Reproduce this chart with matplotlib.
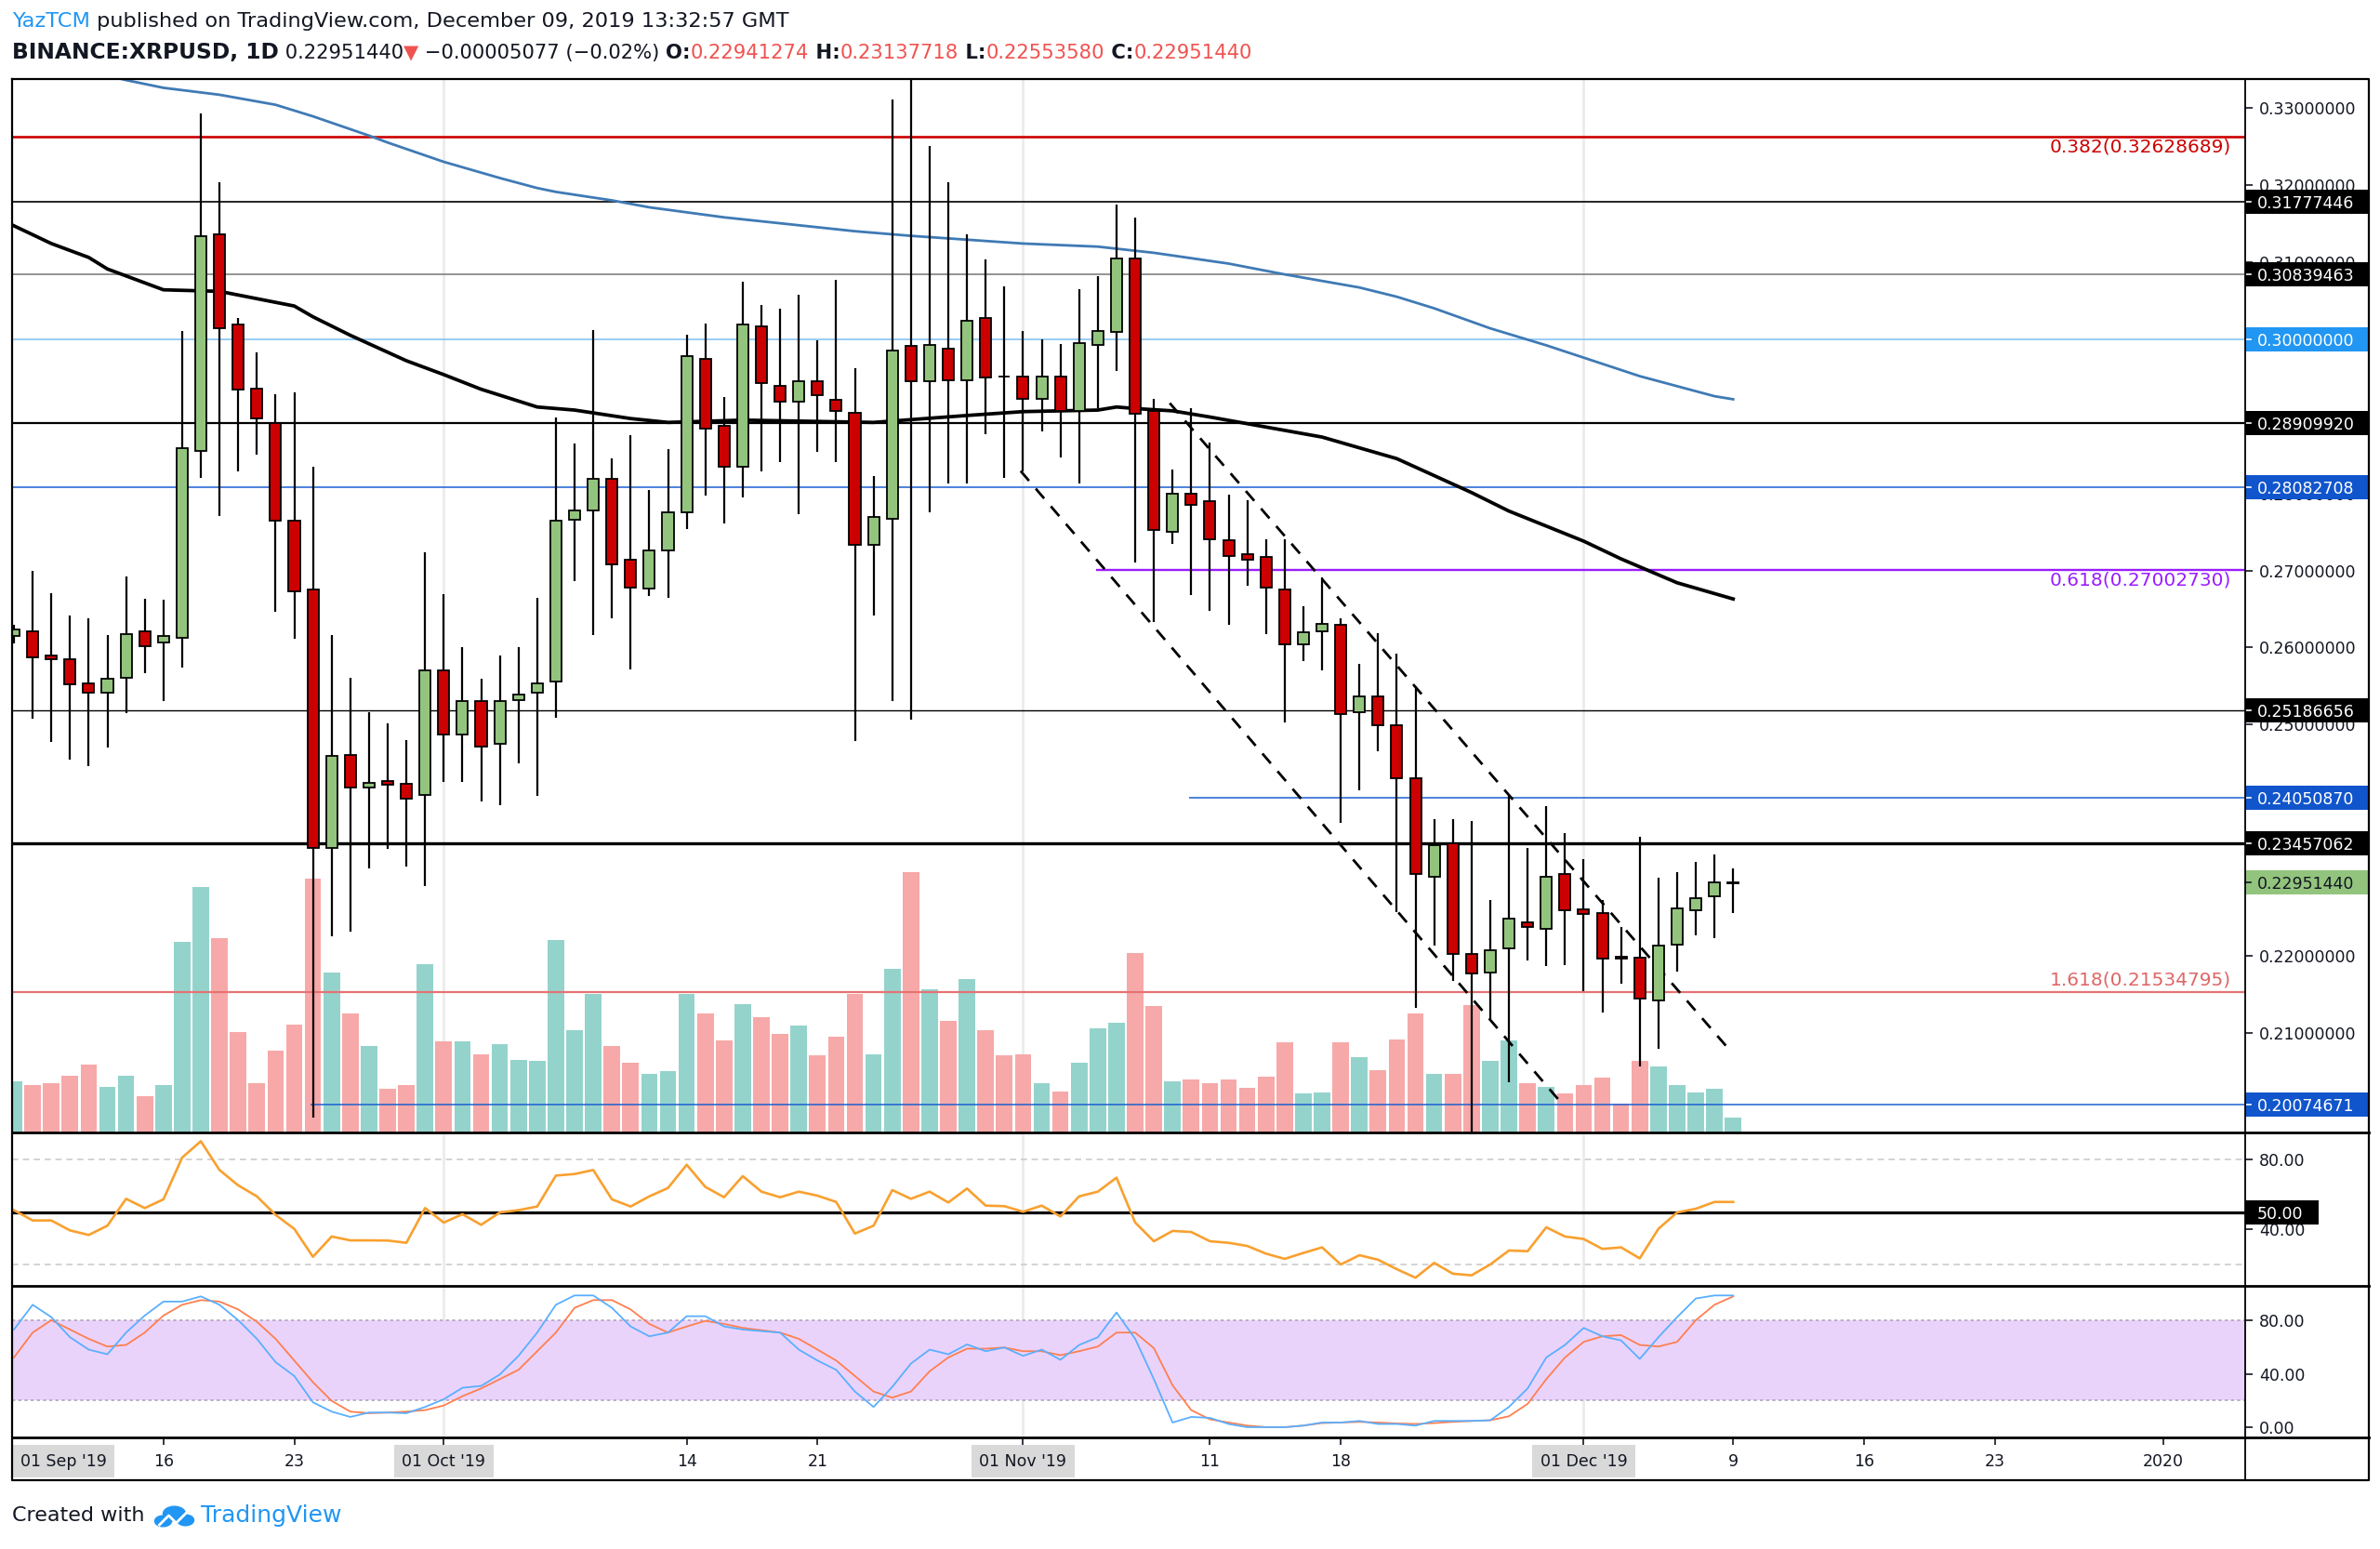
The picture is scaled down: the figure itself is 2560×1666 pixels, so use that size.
import matplotlib
matplotlib.use("Agg")
import matplotlib.pyplot as plt
import matplotlib.transforms as mtransforms
from matplotlib.patches import Rectangle, Circle
from matplotlib.lines import Line2D
import numpy as np
import pandas as pd

plt.rcParams['font.family'] = ['DejaVu Sans']

# ---------------- data ----------------
start_date = "2019-09-08"

opens = [.2615, .2621, .2590, .2585, .2554, .2541, .2561, .2621, .2607, .2613,
         .2855, .3136, .3019, .2936, .2891, .2764, .2675, .2340, .2461, .2419,
         .2427, .2423, .2409, .2570, .2487, .2530, .2475, .2532, .2541, .2556,
         .2766, .2778, .2819, .2714, .2676, .2726, .2776, .2974, .2888, .2835,
         .3016, .2940, .2919, .2945, .2921, .2904, .2733, .2767, .2991, .2945,
         .2988, .2947, .3027, .2952, .2952, .2923, .2952, .2907, .2993, .3009,
         .3105, .2907, .2750, .2799, .2790, .2739, .2721, .2718, .2675, .2604,
         .2621, .2630, .2516, .2537, .2499, .2430, .2303, .2346, .2202, .2179,
         .2210, .2243, .2235, .2306, .2260, .2256, .2199, .2198, .2142, .2215,
         .2259, .2277, .22941274]
highs = [.2629, .2700, .2671, .2642, .2638, .2616, .2692, .2663, .2662, .3010,
         .3293, .3204, .3027, .2983, .2929, .2931, .2835, .2616, .2561, .2516,
         .2502, .2480, .2723, .2669, .2600, .2559, .2590, .2600, .2664, .2899,
         .2865, .3012, .2845, .2875, .2804, .2858, .3006, .3020, .2925, .3075,
         .3044, .3039, .3058, .2998, .3077, .2962, .2822, .3311, .3450, .3251,
         .3204, .3136, .3104, .3069, .3010, .3000, .2994, .3065, .3082, .3175,
         .3158, .2923, .2831, .2910, .2866, .2798, .2791, .2740, .2740, .2654,
         .2691, .2638, .2579, .2619, .2592, .2550, .2378, .2378, .2375, .2273,
         .2408, .2340, .2394, .2359, .2326, .2273, .2238, .2355, .2302, .2309,
         .2322, .2331, .23137718]
lows = [.2605, .2508, .2478, .2455, .2446, .2470, .2515, .2567, .2531, .2574,
        .2820, .2770, .2828, .2850, .2646, .2611, .1990, .2225, .2232, .2313,
        .2339, .2316, .2291, .2426, .2426, .2400, .2395, .2450, .2408, .2509,
        .2686, .2616, .2638, .2571, .2667, .2664, .2754, .2797, .2761, .2795,
        .2828, .2840, .2773, .2854, .2840, .2479, .2642, .2530, .2506, .2776,
        .2813, .2813, .2877, .2820, .2829, .2880, .2846, .2813, .2911, .2959,
        .2710, .2633, .2734, .2668, .2648, .2630, .2680, .2617, .2503, .2583,
        .2570, .2372, .2415, .2465, .2257, .2133, .2214, .2167, .1900, .2118,
        .2036, .2194, .2187, .2188, .2154, .2127, .2164, .2057, .2079, .2180,
        .2227, .2223, .22553580]
closes = [.2623, .2587, .2585, .2552, .2541, .2559, .2618, .2602, .2615, .2859,
          .3133, .3014, .2935, .2897, .2764, .2673, .2340, .2459, .2419, .2425,
          .2422, .2404, .2570, .2487, .2530, .2472, .2530, .2539, .2554, .2764,
          .2778, .2819, .2708, .2678, .2726, .2776, .2978, .2884, .2835, .3019,
          .2943, .2919, .2945, .2927, .2907, .2733, .2769, .2985, .2945, .2993,
          .2947, .3024, .2950, .2951, .2923, .2952, .2907, .2995, .3010, .3105,
          .2903, .2753, .2799, .2785, .2740, .2719, .2714, .2678, .2604, .2620,
          .2631, .2514, .2537, .2499, .2430, .2306, .2344, .2202, .2177, .2207,
          .2248, .2237, .2303, .2259, .2254, .2196, .2197, .2145, .2213, .2262,
          .2275, .2296, .22951440]
volumes = [75, 70, 72, 83, 100, 67, 83, 53, 70, 280,
           360, 285, 147, 72, 120, 158, 372, 234, 175, 127,
           64, 70, 247, 134, 134, 115, 129, 107, 105, 282,
           150, 203, 127, 102, 86, 90, 203, 175, 135, 188,
           169, 145, 157, 113, 140, 203, 115, 240, 382, 210,
           164, 225, 150, 113, 115, 72, 60, 102, 153, 161,
           263, 186, 75, 78, 72, 78, 65, 82, 132, 57,
           59, 132, 110, 92, 137, 175, 86, 86, 187, 105,
           135, 72, 67, 57, 70, 81, 42, 105, 97, 70,
           59, 64, 22]

ma_black_days = [0, 2, 4, 5, 8, 11, 15, 16, 18, 21, 23, 25, 28, 30, 33, 35, 39, 46,
                 51, 54, 58, 59, 60, 62, 64, 70, 74, 76, 78, 80, 84, 86, 89, 92]
ma_black = [.3147, .3124, .3106, .3091, .3064, .3062, .3043, .3029, .3005, .2972,
            .2954, .2935, .2912, .2908, .2897, .2892, .2895, .2892, .2901, .2906,
            .2908, .2912, .2910, .2907, .2899, .2873, .2845, .2823, .2801, .2777,
            .2738, .2715, .2684, .2663]
ma_blue_days = [0, 6, 8, 11, 14, 16, 19, 20, 23, 26, 28, 29, 32, 34, 38, 45, 48, 54,
                58, 61, 65, 68, 72, 74, 76, 79, 82, 85, 87, 91, 92]
ma_blue = [.3372, .3336, .3326, .3317, .3304, .3289, .3264, .3255, .3230, .3209,
           .3196, .3191, .3180, .3171, .3158, .3140, .3134, .3124, .3120, .3112,
           .3098, .3084, .3067, .3055, .3040, .3014, .2992, .2968, .2952, .2926,
           .2922]

upper_channel_days = [61.85, 91.95]
upper_channel = [.2917, .2074]
lower_channel_days = [53.87, 82.85]
lower_channel = [.2829, .2008]

level_prices = [0.32628689, 0.31777446, 0.30839463, 0.30000000, 0.28909920,
                0.28082708, 0.27002730, 0.25186656, 0.24050870, 0.23457062,
                0.21534795, 0.20074671]
level_from_day = [None, None, None, None, None, None, 57.9, None, 62.9, None, None, 15.85]

fib_labels = ["0.382(0.32628689)", "0.618(0.27002730)", "1.618(0.21534795)"]
fib_prices = [0.32628689, 0.27002730, 0.21534795]

rsi = [51.1, 45.2, 45.2, 39.5, 36.9, 42.2, 57.6, 52.3, 57.3, 81.2,
       90.6, 74.1, 65.3, 59.0, 48.4, 40.4, 24.4, 36.0, 33.8, 33.8,
       33.7, 32.4, 52.3, 44.0, 48.8, 42.7, 49.8, 51.1, 53.2, 70.9,
       71.8, 74.1, 57.3, 53.2, 59.0, 63.8, 77.1, 64.4, 58.5, 70.6,
       61.7, 58.5, 61.7, 59.4, 55.8, 37.7, 42.2, 62.6, 57.6, 61.7,
       55.5, 63.5, 53.7, 53.4, 50.2, 53.7, 47.5, 59.0, 61.7, 69.7,
       44.0, 33.3, 39.2, 38.6, 33.3, 32.4, 30.6, 26.2, 23.2, 26.6,
       29.8, 20.0, 25.3, 22.7, 17.3, 12.4, 20.9, 14.7, 13.8, 20.0,
       28.0, 27.6, 41.3, 36.0, 34.6, 28.9, 29.8, 23.5, 40.4, 49.8,
       51.9, 55.8, 55.8]
stoch_k = [73.4, 92.0, 82.7, 67.6, 58.3, 54.8, 71.1, 83.9, 94.4, 94.4,
           98.3, 92.0, 80.4, 66.4, 48.9, 38.5, 18.7, 11.7, 7.7, 11.0,
           11.0, 10.5, 15.2, 21.0, 29.6, 31.0, 39.6, 53.6, 71.1, 92.0,
           99.0, 99.0, 89.7, 75.7, 68.3, 71.1, 83.4, 83.4, 75.7, 73.4,
           72.2, 71.1, 58.3, 50.1, 43.1, 26.8, 15.2, 30.3, 47.8, 58.3,
           54.8, 62.2, 57.1, 59.9, 53.6, 58.3, 50.6, 61.8, 67.6, 86.2,
           66.4, 36.1, 3.5, 7.7, 7.0, 2.4, 0.0, 0.0, 0.0, 1.2,
           3.5, 3.5, 4.7, 2.4, 2.4, 1.2, 4.7, 4.7, 4.7, 5.2,
           15.2, 29.1, 52.4, 61.8, 74.6, 68.3, 65.2, 51.3, 67.6, 82.7,
           96.7, 99.0, 99.0]
stoch_d = [52.4, 71.1, 80.4, 73.4, 66.4, 60.6, 61.8, 71.1, 83.9, 92.0,
           95.5, 94.4, 88.5, 79.2, 66.4, 50.1, 33.8, 19.8, 11.7, 10.5,
           11.0, 11.7, 12.8, 16.3, 23.3, 29.1, 36.1, 43.1, 57.1, 71.1,
           89.7, 95.5, 95.5, 88.5, 77.6, 71.1, 75.7, 79.9, 77.6, 74.6,
           72.9, 71.1, 66.4, 58.3, 50.1, 38.5, 26.8, 22.2, 26.8, 42.0,
           52.4, 59.0, 59.0, 59.9, 57.1, 57.1, 54.1, 57.1, 60.6, 71.1,
           71.1, 59.4, 31.5, 12.8, 5.9, 3.5, 1.2, 0.0, 0.0, 1.2,
           3.1, 3.5, 4.0, 3.5, 2.8, 2.4, 3.1, 4.0, 4.7, 5.2,
           8.2, 17.5, 36.1, 52.4, 64.1, 68.3, 69.2, 61.8, 60.6, 64.1,
           80.4, 92.0, 98.3]

price_ticks = [0.21, 0.22, 0.23, 0.24, 0.25, 0.26, 0.27, 0.28, 0.30, 0.31, 0.32, 0.33]

tick_dates = ["2019-09-16", "2019-09-23", "2019-10-01", "2019-10-14", "2019-10-21",
              "2019-11-01", "2019-11-11", "2019-11-18", "2019-12-01", "2019-12-09",
              "2019-12-16", "2019-12-23", "2020-01-01"]
tick_labels = ["16", "23", "01 Oct '19", "14", "21", "01 Nov '19", "11", "18",
               "01 Dec '19", "9", "16", "23", "2020"]
month_lines = ["2019-10-01", "2019-11-01", "2019-12-01"]

header1 = [("YazTCM", "#2196f3", "normal", 16.2),
           (" published on TradingView.com, December 09, 2019 13:32:57 GMT", "#131722", "normal", 16.2)]
header2 = [("BINANCE:XRPUSD, 1D", "#131722", "bold", 16.8),
           (" 0.22951440", "#131722", "normal", 15.2),
           ("\u25bc", "#ef5350", "normal", 15.2),
           (" \u22120.00005077 (\u22120.02%) ", "#131722", "normal", 15.2),
           ("O:", "#131722", "bold", 15.2), ("0.22941274", "#ef5350", "normal", 15.2),
           (" H:", "#131722", "bold", 15.2), ("0.23137718", "#ef5350", "normal", 15.2),
           (" L:", "#131722", "bold", 15.2), ("0.22553580", "#ef5350", "normal", 15.2),
           (" C:", "#131722", "bold", 15.2), ("0.22951440", "#ef5350", "normal", 15.2)]

# ---------------- layout ----------------
W, H = 2560, 1666
X0, X1 = 13, 2415      # plot area left / right (px)
XR = 2548              # outer right border
fig = plt.figure(figsize=(W / 100, H / 100), dpi=100)
fig.patch.set_facecolor("white")

def rect(top, bot):
    return [X0 / W, 1 - bot / H, (X1 - X0) / W, (bot - top) / H]

xlim = (-0.1, 119.4)
n = len(closes)
x = np.arange(n)
d0 = pd.Timestamp(start_date)
o, h, l, c = map(np.array, (opens, highs, lows, closes))
up = c >= o

axv = fig.add_axes(rect(85, 1218))
ax = fig.add_axes(rect(85, 1218), sharex=axv)
axr = fig.add_axes(rect(1218, 1383), sharex=axv)
axs = fig.add_axes(rect(1383, 1546), sharex=axv)
ax.patch.set_visible(False)
for a in (axv, ax, axr, axs):
    for s in a.spines.values():
        s.set_visible(False)
axv.set_xlim(*xlim)

mdays = [(pd.Timestamp(d) - d0).days for d in month_lines]
for a in (axv, axr, axs):
    for md in mdays:
        a.axvline(md, color="#ebebeb", lw=2, zorder=0)

# volume
axv.bar(x, volumes, width=0.88, color=np.where(up, "#94d3cc", "#f6a9a8"), zorder=1)
axv.set_ylim(0, 1545)
axv.set_yticks([])
axv.tick_params(bottom=False, labelbottom=False)

# price panel
ymin, ymax = 0.197101, 0.333739
ax.set_ylim(ymin, ymax)
lvl_color = ["#cc0000", "#000000", "#808080", "#86c3f2", "#000000", "#1c5fd1",
             "#9b1dff", "#000000", "#1c5fd1", "#000000", "#e57373", "#1c5fd1"]
lvl_width = [1.9, 1.2, 1.2, 1.2, 1.6, 1.1, 1.7, 1.0, 1.1, 2.4, 1.6, 1.1]
for p, fr, col, lw in zip(level_prices, level_from_day, lvl_color, lvl_width):
    if fr is None:
        ax.axhline(p, color=col, lw=lw, zorder=2)
    else:
        ax.hlines(p, fr, xlim[1], color=col, lw=lw, zorder=2)

ax.plot(ma_blue_days, ma_blue, color="#3f7ab5", lw=2.0, zorder=2.5)
ax.plot(ma_black_days, ma_black, color="black", lw=2.7, zorder=2.5)
ax.plot(upper_channel_days, upper_channel, color="black", lw=2.0, dashes=(5, 4), zorder=2.6)
ax.plot(lower_channel_days, lower_channel, color="black", lw=2.0, dashes=(5, 4), zorder=2.6)

ax.vlines(x, l, h, color="black", lw=1.6, zorder=3)
ax.bar(x, np.maximum(np.abs(c - o), 0.00004), bottom=np.minimum(o, c), width=0.6,
       color=np.where(up, "#93c47d", "#cc0000"), edgecolor="black", linewidth=1.3, zorder=4)

fib_colors = ["#cc0000", "#9b1dff", "#e06666"]
fib_dy = [-1, -1, 2]
for s, p, col, dy in zip(fib_labels, fib_prices, fib_colors, fib_dy):
    ax.annotate(s, xy=((2400 - X0) / (X1 - X0), p), xycoords=("axes fraction", "data"),
                xytext=(0, dy), textcoords="offset points", ha="right",
                va="top" if dy < 0 else "bottom", color=col, fontsize=14.5, zorder=6)

ax.yaxis.tick_right()
ax.set_yticks(price_ticks)
ax.yaxis.set_major_formatter(matplotlib.ticker.FormatStrFormatter("%.8f"))
ax.tick_params(axis="y", direction="out", length=6, width=1.2, pad=5, labelsize=12.5,
               colors="#131722")
ax.tick_params(axis="x", bottom=False, labelbottom=False)

aw = X1 - X0
ppu = (1218 - 85) / (ymax - ymin)
box_tr = mtransforms.blended_transform_factory(ax.transAxes, ax.transData)
box_list = [(0.31777446, "#000000", "white"), (0.30839463, "#000000", "white"),
            (0.30000000, "#2196f3", "white"), (0.28909920, "#000000", "white"),
            (0.28082708, "#1155cc", "white"), (0.25186656, "#000000", "white"),
            (0.24050870, "#1155cc", "white"), (0.23457062, "#000000", "white"),
            (closes[-1], "#93c47d", "#131722"), (0.20074671, "#1155cc", "white")]
bh = 26 / ppu
for p, fc, tc in box_list:
    ax.add_patch(Rectangle((1.0, p - bh / 2), (XR - X1) / aw, bh, transform=box_tr,
                           facecolor=fc, edgecolor="none", clip_on=False, zorder=5))
    ax.plot([1.0, 1.0 + 6 / aw], [p, p], transform=box_tr, color=tc, lw=1.2,
            clip_on=False, zorder=6)
    ax.text(1.0 + 13 / aw, p, f"{p:.8f}", transform=box_tr, color=tc, fontsize=12.5,
            va="center_baseline", ha="left", clip_on=False, zorder=6)

# RSI panel
axr.plot(x, rsi, color="#f9a02f", lw=1.9, zorder=3)
axr.axhline(80, color="#cccccc", lw=1.2, dashes=(4, 3), zorder=1)
axr.axhline(20, color="#cccccc", lw=1.2, dashes=(4, 3), zorder=1)
axr.axhline(50, color="black", lw=2.3, zorder=2)
axr.set_ylim(7.74, 95.6)
axr.yaxis.tick_right()
axr.set_yticks([40, 80])
axr.yaxis.set_major_formatter(matplotlib.ticker.FormatStrFormatter("%.2f"))
axr.tick_params(axis="y", direction="out", length=6, width=1.2, pad=5, labelsize=12.5,
                colors="#131722")
axr.tick_params(axis="x", bottom=False, labelbottom=False)
rtr = mtransforms.blended_transform_factory(axr.transAxes, axr.transData)
rppu = 165 / (95.6 - 7.74)
axr.add_patch(Rectangle((1.0, 50 - 13 / rppu), 79 / aw, 26 / rppu, transform=rtr,
                        facecolor="black", edgecolor="none", clip_on=False, zorder=5))
axr.text(1.0 + 13 / aw, 50, "50.00", transform=rtr, color="white", fontsize=12.5,
         va="center_baseline", ha="left", clip_on=False, zorder=6)

# Stoch RSI panel
axs.axhspan(20, 80, color="#ead3fb", lw=0, zorder=0.5)
axs.axhline(80, color="#b0a4bc", lw=1.2, dashes=(2, 2), zorder=1)
axs.axhline(20, color="#b0a4bc", lw=1.2, dashes=(2, 2), zorder=1)
axs.plot(x, stoch_d, color="#ff7f50", lw=1.3, zorder=3)
axs.plot(x, stoch_k, color="#5aafff", lw=1.3, zorder=3)
axs.set_ylim(-7.7, 106.2)
axs.yaxis.tick_right()
axs.set_yticks([0, 40, 80])
axs.yaxis.set_major_formatter(matplotlib.ticker.FormatStrFormatter("%.2f"))
axs.tick_params(axis="y", direction="out", length=6, width=1.2, pad=5, labelsize=12.5,
                colors="#131722")

tpos = [xlim[0] + 2.75] + [(pd.Timestamp(d) - d0).days for d in tick_dates]
axs.set_xticks(tpos)
axs.set_xticklabels(["01 Sep '19"] + tick_labels)
axs.tick_params(axis="x", direction="out", length=6, width=1.2, pad=6, labelsize=12.5,
                colors="#131722")
axs.xaxis.get_major_ticks()[0].tick1line.set_visible(False)
for t in axs.get_xticklabels():
    if "'" in t.get_text():
        t.set_bbox(dict(boxstyle="square,pad=0.5", fc="#d9d9d9", ec="none"))
axs.set_xlim(*xlim)

# frame lines
def fline(xs, ys, lw=1.5):
    fig.add_artist(Line2D([v / W for v in xs], [1 - v / H for v in ys],
                          transform=fig.transFigure, color="black", lw=lw))

fline([X0, XR, XR, X0, X0], [85, 85, 1592, 1592, 85], lw=1.6)
fline([X0, XR], [1218, 1218], lw=2.0)
fline([X0, XR], [1383, 1383], lw=2.0)
fline([X0, XR], [1546, 1546], lw=2.0)
fline([X1, X1], [85, 1592], lw=1.3)

# header text
renderer = fig.canvas.get_renderer()

def put_pieces(xp, yp, pieces):
    for s, col, wt, size in pieces:
        t = fig.text(xp / W, 1 - yp / H, s, color=col, fontsize=size, fontweight=wt,
                     va="center", ha="left")
        xp += t.get_window_extent(renderer=renderer).width
    return xp

put_pieces(X0, 23, header1)
put_pieces(X0, 57, header2)

# footer
xe = put_pieces(X0, 1630, [("Created with", "#131722", "normal", 16)])
lx, ly = xe + 10, 1632
for dx, dy, r in [(10, 4, 9), (22, -4, 12), (34, 3, 9)]:
    fig.add_artist(Circle(((lx + dx) / W, 1 - (ly + dy) / H), r / W,
                          transform=fig.transFigure, color="#2196f3"))
fig.add_artist(Line2D([(lx + 6) / W, (lx + 16) / W, (lx + 24) / W, (lx + 36) / W],
                      [1 - (ly + 8) / H, 1 - (ly - 2) / H, 1 - (ly + 6) / H, 1 - (ly - 6) / H],
                      transform=fig.transFigure, color="white", lw=2))
put_pieces(lx + 50, 1630, [("TradingView", "#2196f3", "normal", 18)])

fig.savefig("out.png", dpi=100)
